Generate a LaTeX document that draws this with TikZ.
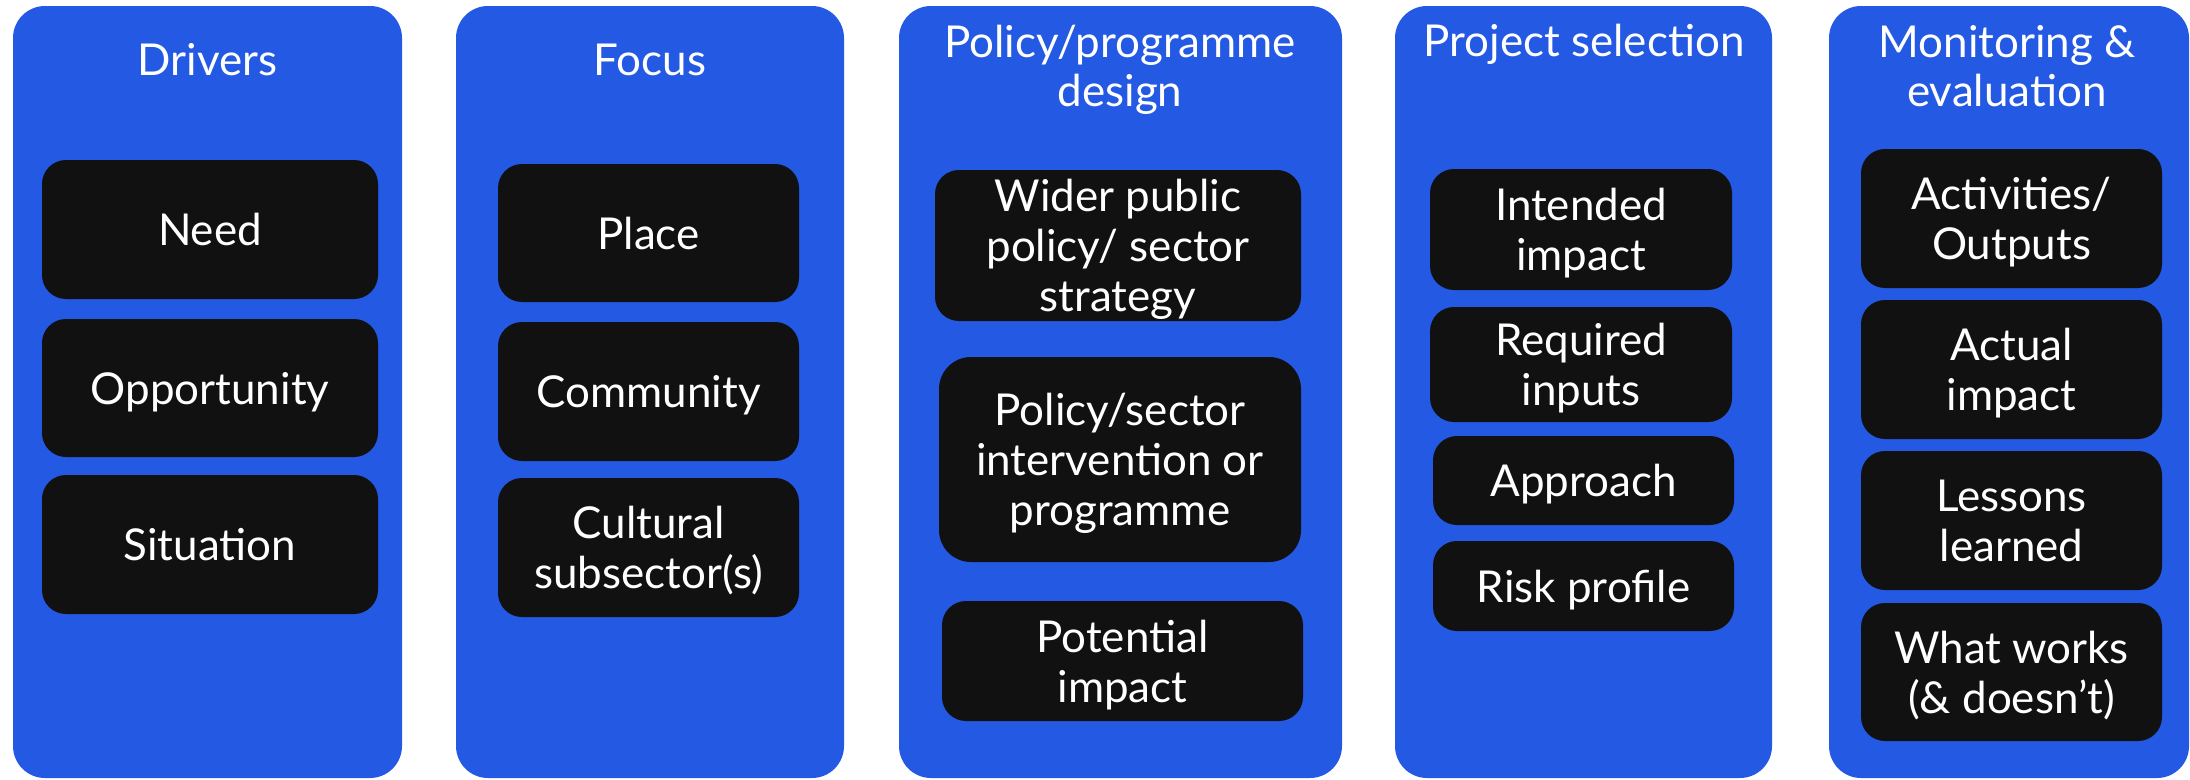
\documentclass[tikz,border=0pt]{standalone}
\usepackage{fontspec}
\setmainfont{Lato}
\definecolor{colblue}{HTML}{2459E4}
\definecolor{boxblack}{HTML}{111111}

\begin{document}
\begin{tikzpicture}[x=0.1mm, y=-0.1mm,
    column/.style={fill=colblue, rounded corners=3.2mm, inner sep=0pt},
    heading/.style={text=white, font=\fontsize{12.5}{14.2}\selectfont, align=center, anchor=base, inner sep=0pt},
    item/.style={fill=boxblack, text=white, rounded corners=2.4mm, font=\fontsize{12.5}{14.2}\selectfont, align=center, inner sep=0pt, text depth=0pt}]
    \useasboundingbox (0,0) rectangle (2190,779);

    % columns
    \node[column, minimum width=38.9mm, minimum height=77.2mm] (drv) at (207.5,392) {};
    \node[column, minimum width=38.8mm, minimum height=77.2mm] (foc) at (650,392) {};
    \node[column, minimum width=44.3mm, minimum height=77.2mm] (pol) at (1120.5,392) {};
    \node[column, minimum width=37.7mm, minimum height=77.2mm] (sel) at (1583.5,392) {};
    \node[column, minimum width=36.0mm, minimum height=77.2mm] (mon) at (2009,392) {};

    % headings (base = last line)
    \node[heading] (drvT) at (207.5,76) {Drivers};
    \node[heading] (focT) at (650,76) {Focus};
    \node[heading] (polT) at (1120,107) {Policy/programme\\design};
    \node[heading] (selT) at (1584,57) {Project selection};
    \node[heading] (monT) at (2007,107) {Monitoring \&\\evaluation};

    % drivers
    \node[item, minimum width=33.6mm, minimum height=13.9mm] (need) at (210,229.5) {Need};
    \node[item, minimum width=33.6mm, minimum height=13.8mm] (opp) at (210,388) {Opportunity};
    \node[item, minimum width=33.6mm, minimum height=13.9mm] (sit) at (210,544.5) {Situation};

    % focus
    \node[item, minimum width=30.1mm, minimum height=13.8mm] (place) at (648.5,233) {Place};
    \node[item, minimum width=30.1mm, minimum height=13.9mm] (comm) at (648.5,391.5) {Community};
    \node[item, minimum width=30.1mm, minimum height=13.9mm] (cult) at (648.5,547.5) {Cultural\\subsector(s)};

    % policy/programme design
    \node[item, minimum width=36.6mm, minimum height=15.1mm] (wider) at (1118,245.5) {Wider public\\policy/ sector\\strategy};
    \node[item, rounded corners=3.2mm, minimum width=36.2mm, minimum height=20.5mm] (inter) at (1120,459.5) {Policy/sector\\intervention or\\programme};
    \node[item, minimum width=36.1mm, minimum height=12.0mm] (poti) at (1122.5,661) {Potential\\impact};

    % project selection
    \node[item, minimum width=30.2mm, minimum height=12.1mm] (inti) at (1581,229.5) {Intended\\impact};
    \node[item, minimum width=30.2mm, minimum height=11.5mm] (reqi) at (1581,364.5) {Required\\inputs};
    \node[item, minimum width=30.1mm, minimum height=8.9mm] (appr) at (1583.5,480.5) {Approach};
    \node[item, minimum width=30.1mm, minimum height=9.0mm] (risk) at (1583.5,586) {Risk profile};

    % monitoring & evaluation
    \node[item, minimum width=30.1mm, minimum height=13.9mm] (acts) at (2011.5,218.5) {Activities/\\Outputs};
    \node[item, minimum width=30.1mm, minimum height=13.9mm] (acti) at (2011.5,369.5) {Actual\\impact};
    \node[item, minimum width=30.1mm, minimum height=13.9mm] (less) at (2011.5,520.5) {Lessons\\learned};
    \node[item, minimum width=30.1mm, minimum height=13.8mm] (what) at (2011.5,672) {What works\\(\& doesn’t)};
\end{tikzpicture}
\end{document}
